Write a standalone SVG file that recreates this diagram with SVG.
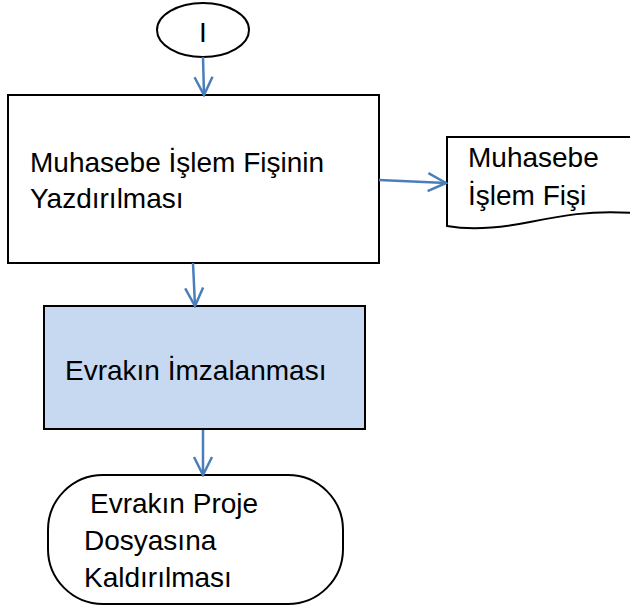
<svg xmlns="http://www.w3.org/2000/svg" width="630" height="611" viewBox="0 0 630 611">
<defs>
<style>
.n{fill:#fff;stroke:#000;stroke-width:2}
.t{font-family:"Liberation Sans",Arial,sans-serif;font-size:28px;fill:#000}
.c{fill:none;stroke:#4A7EBB;stroke-width:2.5}
</style>
<marker id="a" viewBox="0 0 24 24" refX="22" refY="12" markerWidth="24" markerHeight="24" markerUnits="userSpaceOnUse" orient="auto">
<path d="M4,3 L22,12 L4,21" fill="none" stroke="#4A7EBB" stroke-width="2.5"/>
</marker>
</defs>
<rect width="630" height="611" fill="#fff"/>
<g id="start">
<ellipse class="n" cx="203" cy="30" rx="46" ry="27"/>
<text class="t" x="203" y="42" text-anchor="middle" font-size="32">I</text>
</g>
<g id="print">
<rect class="n" x="8" y="95" width="371" height="168"/>
<text class="t" x="30" y="172">Muhasebe İşlem Fişinin</text>
<text class="t" x="30" y="208">Yazdırılması</text>
</g>
<g id="doc">
<path class="n" d="M447,137 L632,137 L632,213 C590,210 560,216 530,222 C500,228 470,230 447,226 Z"/>
<text class="t" x="468" y="167">Muhasebe</text>
<text class="t" x="468" y="205">İşlem Fişi</text>
</g>
<g id="sign">
<rect x="44" y="306" width="321" height="123" fill="#C6D9F1" stroke="#000" stroke-width="2"/>
<text class="t" x="65" y="380">Evrakın İmzalanması</text>
</g>
<g id="file">
<rect class="n" x="48" y="475" width="295" height="129" rx="55" ry="55"/>
<text class="t" x="90" y="513">Evrakın Proje</text>
<text class="t" x="84" y="550">Dosyasına</text>
<text class="t" x="84" y="587">Kaldırılması</text>
</g>
<g id="connectors">
<line class="c" x1="203" y1="57" x2="204" y2="95" marker-end="url(#a)"/>
<line class="c" x1="193" y1="263" x2="195" y2="306" marker-end="url(#a)"/>
<line class="c" x1="379" y1="180" x2="446" y2="183" marker-end="url(#a)"/>
<line class="c" x1="203" y1="430" x2="203" y2="475" marker-end="url(#a)"/>
</g>
</svg>
